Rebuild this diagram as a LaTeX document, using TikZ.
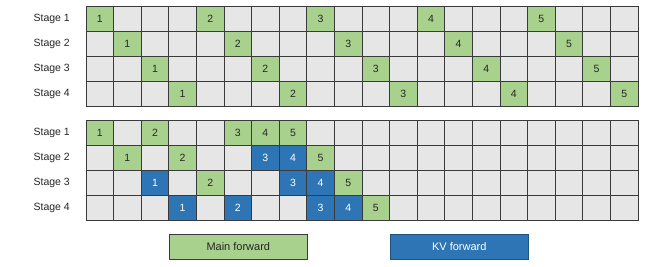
\documentclass[tikz,border=0pt]{standalone}
\usepackage{fontspec}
\setmainfont{Liberation Sans}
\definecolor{mfgreen}{HTML}{A9D18E}
\definecolor{kvblue}{HTML}{2E75B6}
\definecolor{cellgray}{HTML}{E7E6E6}
\definecolor{gridc}{HTML}{3A3A3A}
\definecolor{txt}{HTML}{262626}
\tikzset{
  cell/.style={draw=gridc, line width=0.7pt, fill=cellgray, minimum width=27.6pt, minimum height=25pt,
    inner sep=0pt, outer sep=0pt, anchor=north west, font=\fontsize{10.5}{12}\selectfont, text=txt},
  mf/.style={cell, fill=mfgreen},
  kv/.style={cell, fill=kvblue, text=white},
  stagelbl/.style={anchor=east, inner sep=0pt, font=\fontsize{10.5}{12}\selectfont, text=txt},
  legbox/.style={draw=gridc, line width=0.6pt, minimum width=138pt, minimum height=25pt, inner sep=0pt,
    anchor=north west, font=\fontsize{11}{13}\selectfont}
}
\begin{document}
\begin{tikzpicture}[x=1pt,y=-1pt]
\useasboundingbox (0,0) rectangle (664,266);
% top grid
\foreach \s in {1,...,4}{
  \node[stagelbl] (tl\s) at (70,{6+25*(\s-1)+12.5}) {Stage \s};
  \foreach \c in {0,...,19}
    \node[cell] (t\s-\c) at ({86+27.6*\c},{6+25*(\s-1)}) {};
  \foreach \b in {1,...,5}{
    \pgfmathtruncatemacro\cc{4*(\b-1)+\s-1}
    \node[mf] (tm\s-\b) at ({86+27.6*\cc},{6+25*(\s-1)}) {\b};
  }
}
% bottom grid
\foreach \s in {1,...,4}{
  \node[stagelbl] (bl\s) at (70,{120+25*(\s-1)+12.5}) {Stage \s};
  \foreach \c in {0,...,19}
    \node[cell] (b\s-\c) at ({86+27.6*\c},{120+25*(\s-1)}) {};
}
\foreach \s/\c/\l in {1/0/1,1/2/2,1/5/3,1/6/4,1/7/5,
                      2/1/1,2/3/2,2/8/5,
                      3/4/2,3/9/5,
                      4/10/5}
  \node[mf] (bm\s-\l) at ({86+27.6*\c},{120+25*(\s-1)}) {\l};
\foreach \s/\c/\l in {2/6/3,2/7/4,
                      3/2/1,3/7/3,3/8/4,
                      4/3/1,4/5/2,4/8/3,4/9/4}
  \node[kv] (bk\s-\l) at ({86+27.6*\c},{120+25*(\s-1)}) {\l};
% legend
\node[legbox, fill=mfgreen, text=txt] (legmf) at (169,234) {Main forward};
\node[legbox, fill=kvblue, text=white, draw=kvblue!70!black] (legkv) at (390,234) {KV forward};
\end{tikzpicture}
\end{document}
